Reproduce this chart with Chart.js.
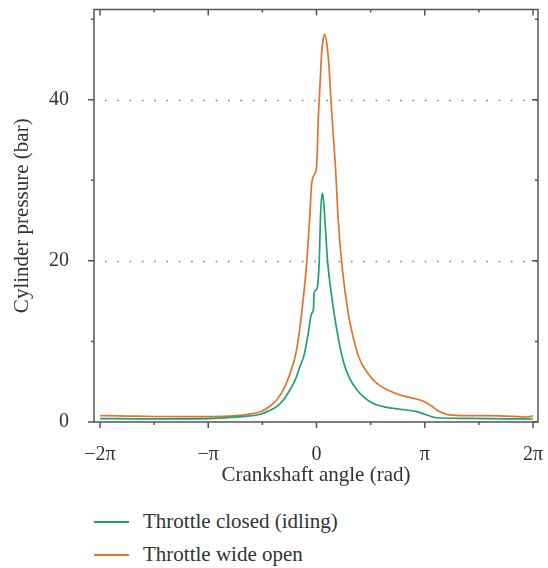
<!DOCTYPE html>
<html>
<head>
<meta charset="utf-8">
<script src="https://cdn.jsdelivr.net/npm/chart.js@4.4.1/dist/chart.umd.min.js"></script>
<style>
body { margin: 0; background: #fff; }
#wrap { position: relative; width: 548px; height: 568px; }
#legend { position: absolute; left: 94px; top: 505px; font: 21px 'Liberation Serif', serif; color: #333; }
.item { height: 33px; display: flex; align-items: center; }
.item .line { display: inline-block; width: 35px; height: 0; border-top: 2px solid; margin-right: 14px; }
</style>
</head>
<body>
<div id="wrap">
	<canvas id="pressureChart" width="548" height="495"></canvas>
	<div id="legend"></div>
</div>
<script>
// crank angle in rad, pressure in bar
var closedAngle = [-6.28, -5.0, -3.8, -3.14, -2.42, -2.0, -1.64, -1.4, -1.16, -0.95, -0.77, -0.6, -0.48, -0.36, -0.24, -0.14, -0.09, -0.07, -0.01, 0.03, 0.08, 0.12, 0.17, 0.2, 0.25, 0.32, 0.44, 0.59, 0.78, 0.95, 1.17, 1.4, 1.65, 2.0, 2.42, 2.91, 3.05, 3.2, 3.35, 3.49, 4.17, 5.0, 5.7, 6.28];
var closedPressure = [0.42, 0.4, 0.4, 0.42, 0.58, 0.72, 0.96, 1.35, 1.9, 2.8, 4.0, 5.4, 6.9, 8.3, 11.0, 13.5, 13.9, 16.0, 16.4, 16.8, 20.0, 25.9, 28.4, 27.6, 24.7, 20.0, 15.6, 11.4, 7.5, 5.5, 4.0, 3.0, 2.3, 1.85, 1.58, 1.28, 1.1, 0.87, 0.65, 0.53, 0.46, 0.42, 0.39, 0.37];

var openAngle = [-6.28, -5.5, -4.7, -3.9, -3.14, -2.42, -2.0, -1.64, -1.4, -1.16, -0.95, -0.77, -0.62, -0.53, -0.41, -0.28, -0.19, -0.14, -0.04, 0.01, 0.05, 0.1, 0.15, 0.2, 0.24, 0.31, 0.37, 0.42, 0.49, 0.56, 0.63, 0.75, 0.92, 1.05, 1.23, 1.5, 1.75, 2.1, 2.42, 2.75, 3.0, 3.2, 3.35, 3.49, 3.65, 3.78, 4.17, 5.0, 5.7, 6.1, 6.28];
var openPressure = [0.8, 0.74, 0.68, 0.66, 0.67, 0.75, 0.95, 1.28, 1.8, 2.7, 4.1, 6.0, 8.1, 10.2, 14.3, 20.0, 25.9, 29.6, 30.9, 32.1, 37.5, 41.7, 45.8, 47.7, 48.1, 46.6, 43.7, 39.9, 35.4, 30.9, 25.1, 19.0, 13.5, 10.8, 8.0, 6.0, 4.8, 3.9, 3.35, 3.0, 2.73, 2.35, 1.95, 1.5, 1.15, 0.95, 0.8, 0.78, 0.7, 0.62, 0.75];

// x ticks in multiples of pi
var xTickPi = [-2, -1.5, -1, -0.5, 0, 0.5, 1, 1.5, 2];
var xTickText = ['\u22122\u03c0', '', '\u2212\u03c0', '', '0', '', '\u03c0', '', '2\u03c0'];
var yTickValues = [0, 10, 20, 30, 40, 50];
var yTickText = ['0', '', '20', '', '40', ''];
var dottedAt = [20, 40];

var FONT = "'Liberation Serif', serif";
var TXT = '#333';
var FRAME = '#555';

function toPoints(xs, ys) {
	var pts = [];
	for(var i = 0; i < xs.length; i++) {
		pts.push({ x: xs[i], y: ys[i] });
	}
	return pts;
}

var frameTicks = {
	id: 'frameTicks',
	beforeDatasetsDraw: function(chart) {
		var c = chart.ctx, a = chart.chartArea, y = chart.scales.y;
		c.save();
		c.strokeStyle = '#808080';
		c.lineWidth = 1.6;
		c.setLineDash([1.6, 10.7]);
		for(var v of dottedAt) {
			var py = Math.round(y.getPixelForValue(v)) + 0.5;
			c.beginPath();
			c.moveTo(a.left + 11, py);
			c.lineTo(a.right, py);
			c.stroke();
		}
		c.restore();
	},
	afterDatasetsDraw: function(chart) {
		var c = chart.ctx, a = chart.chartArea, x = chart.scales.x, y = chart.scales.y;
		c.save();
		c.strokeStyle = FRAME;
		c.lineWidth = 1.5;
		c.strokeRect(a.left, a.top, a.right - a.left, a.bottom - a.top);
		c.beginPath();
		x.ticks.forEach(function(t, i) {
			var px = x.getPixelForValue(t.value);
			var len = xTickText[i] !== '' ? 6 : 3;
			c.moveTo(px, a.bottom); c.lineTo(px, a.bottom + len);
			c.moveTo(px, a.top); c.lineTo(px, a.top + len);
		});
		y.ticks.forEach(function(t, i) {
			var py = y.getPixelForValue(t.value);
			var len = yTickText[i] !== '' ? 6 : 3;
			c.moveTo(a.left - len, py); c.lineTo(a.left, py);
			c.moveTo(a.right - len, py); c.lineTo(a.right, py);
		});
		c.stroke();
		c.restore();
	}
};

var ctx = document.getElementById('pressureChart').getContext('2d');
var chart = new Chart(ctx, {
	type: 'line',
	data: {
		datasets: [{
			label: 'Throttle closed (idling)',
			data: toPoints(closedAngle, closedPressure),
			borderColor: '#1f9e78',
			borderWidth: 1.7,
			pointRadius: 0,
			cubicInterpolationMode: 'monotone',
			fill: false
		}, {
			label: 'Throttle wide open',
			data: toPoints(openAngle, openPressure),
			borderColor: '#e3732c',
			borderWidth: 1.7,
			pointRadius: 0,
			cubicInterpolationMode: 'monotone',
			fill: false
		}]
	},
	options: {
		responsive: false,
		animation: false,
		layout: { padding: { top: 9.5, right: 10, left: 0, bottom: 0 } },
		plugins: { legend: { display: false }, tooltip: { enabled: false } },
		scales: {
			x: {
				type: 'linear',
				min: -6.457,
				max: 6.428,
				grid: { display: false },
				border: { display: false },
				afterBuildTicks: function(s) {
					s.ticks = xTickPi.map(function(v) { return { value: v * Math.PI }; });
				},
				afterFit: function(s) {
					s.height = 73;
					s.paddingLeft = 0;
					s.paddingRight = 0;
				},
				ticks: {
					autoSkip: false,
					maxRotation: 0,
					padding: 13,
					color: TXT,
					font: { family: FONT, size: 20 },
					callback: function(v, i) { return xTickText[i]; }
				},
				title: {
					display: true,
					text: 'Crankshaft angle (rad)',
					color: TXT,
					font: { family: FONT, size: 21 },
					padding: { top: 0, bottom: 7 }
				}
			},
			y: {
				min: 0,
				max: 51.2,
				grid: { display: false },
				border: { display: false },
				afterBuildTicks: function(s) {
					s.ticks = yTickValues.map(function(v) { return { value: v }; });
				},
				afterFit: function(s) {
					s.width = 94;
					s.paddingTop = 0;
					s.paddingBottom = 0;
				},
				ticks: {
					padding: 17,
					color: TXT,
					font: { family: FONT, size: 20 },
					callback: function(v, i) { return yTickText[i]; }
				},
				title: {
					display: true,
					text: 'Cylinder pressure (bar)',
					color: TXT,
					font: { family: FONT, size: 21 },
					padding: { top: 10, bottom: 0 }
				}
			}
		}
	},
	plugins: [frameTicks]
});

// legend as html, one row per dataset
var legend = document.getElementById('legend');
chart.data.datasets.forEach(function(ds) {
	var row = document.createElement('div');
	row.className = 'item';
	row.innerHTML = '<span class="line" style="border-color:' + ds.borderColor + '"></span><span>' + ds.label + '</span>';
	legend.appendChild(row);
});
</script>
</body>
</html>
